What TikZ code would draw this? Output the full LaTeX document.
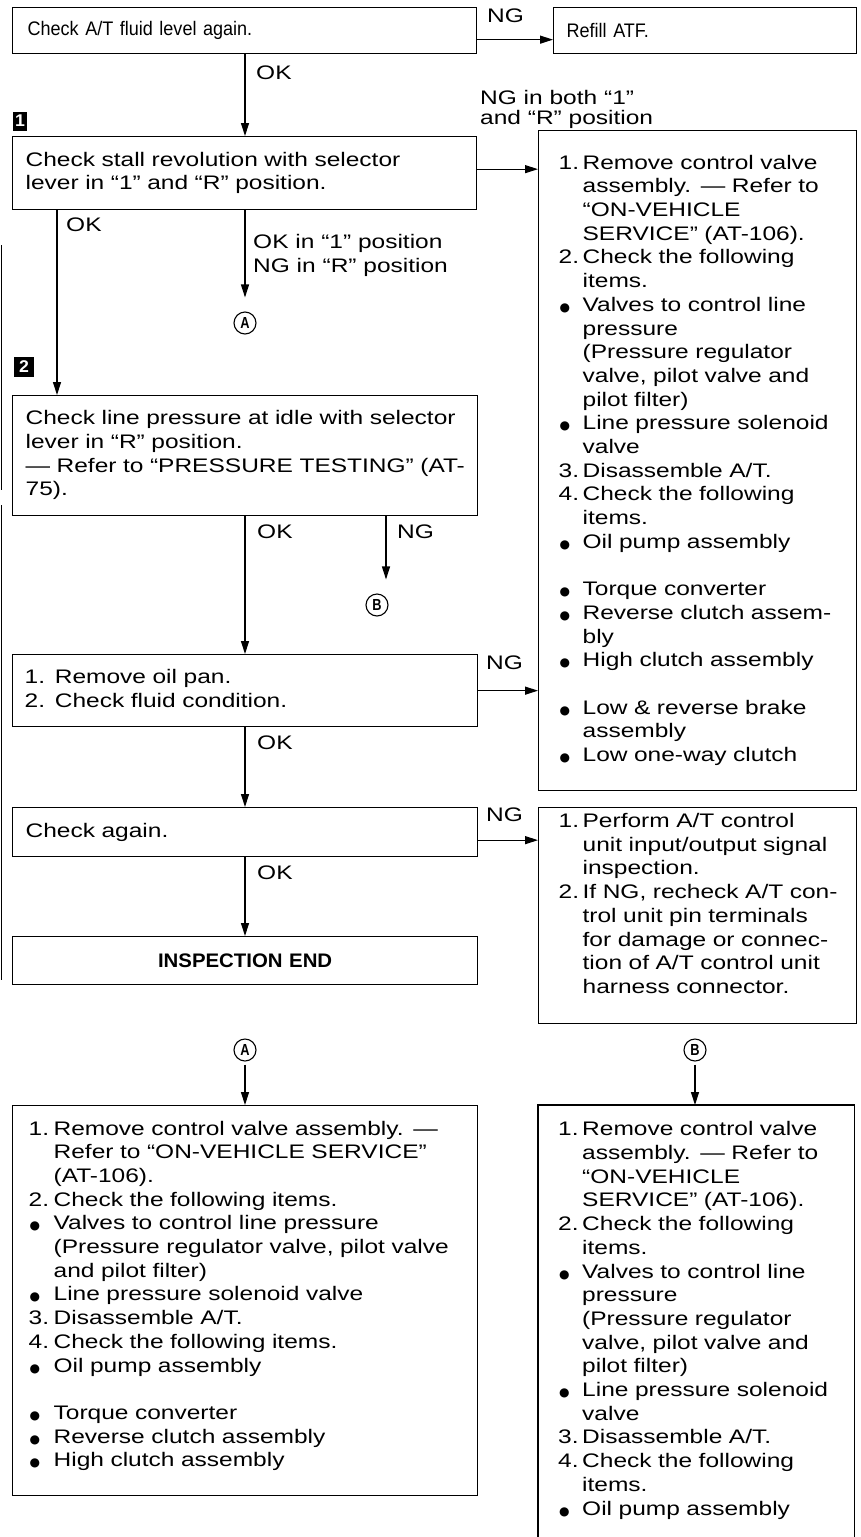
\documentclass[tikz,border=0pt]{standalone}
\usepackage{fontspec}
\setmainfont{Liberation Sans}
\newfontfamily\wf[FakeStretch=1.25]{Liberation Sans}
\newfontfamily\nf[FakeStretch=1.04]{Liberation Sans}
\newfontfamily\kf[FakeStretch=0.92]{Liberation Sans}
\newfontfamily\cf[FakeStretch=0.8]{Liberation Sans}
\newfontfamily\djv{DejaVu Sans}
\usetikzlibrary{arrows.meta}
\newcommand\tx{\wf\fontsize{19.6}{23.7}\selectfont}
\newcommand\ntx{\kf\fontsize{19.6}{23}\selectfont}
\newlength\indw
\setlength\indw{24pt}
\newcommand\Itm[1]{\makebox[\indw][l]{#1}}
\newcommand\Bul{\makebox[\indw][l]{\hspace{1pt}{\djv\fontsize{12}{0}\selectfont ●}}}
\newcommand\Ctn{\hspace*{\indw}}
\newcommand\Tb[1]{\begin{tabular}{@{}l@{}}#1\end{tabular}}
\tikzset{
  box/.style={draw, line width=1.3pt, anchor=north west, inner xsep=13pt, inner ysep=0pt, align=left, font=\tx},
  lbl/.style={font=\tx, inner sep=0pt, anchor=west},
  arr/.style={-{Triangle[length=13pt,width=8pt]}, line width=1.2pt},
  stepmark/.style={fill=black, text=white, inner sep=0pt, font=\nf\bfseries\fontsize{17}{17}\selectfont},
  circ/.style={circle, draw, line width=1.1pt, minimum size=22pt, inner sep=0pt, font=\cf\bfseries\fontsize{16}{16}\selectfont}
}
\begin{document}
\begin{tikzpicture}[x=1pt,y=-1pt]
\useasboundingbox (0,0) rectangle (861,1537);
\fill[white] (0,0) rectangle (861,1537);
\coordinate (cx) at (245,0);
% page-edge marks
\draw[line width=1pt] (1.5,245) -- (1.5,490);
\draw[line width=1pt] (1.5,505) -- (1.5,980);

% top row
\node[box, minimum width=464pt, minimum height=46pt, inner xsep=15pt, text width=434pt, font=\ntx] (b1) at (12,7) {Check A/T fluid level again.};
\node[box, minimum width=303pt, minimum height=46pt, text width=277pt, font=\ntx] (refill) at (553,7) {Refill ATF.};
\draw[arr] ([yshift=-9pt]b1.east) -- ([yshift=-9pt]b1.east -| refill.west);
\node[lbl] (ng0) at (487,16) {NG};
\node[lbl] (ok0) at (256,73) {OK};

% stall box
\node[stepmark, minimum width=14pt, minimum height=19pt] (m1) at (20,121) {1};
\node[box, minimum width=464pt, minimum height=73pt, inner xsep=13pt, text width=438pt] (b2) at (12,136) {\Tb{Check stall revolution with selector\\lever in “1” and “R” position.}};
\draw[arr] (b1.south -| cx) -- (b2.north -| cx);
\node[lbl] (ngboth) at (480,97) {NG in both “1”};
\node[lbl] (ngboth2) at (480,119) {and “R” position};

% right box 1
\node[box, minimum width=318pt, minimum height=660pt, inner xsep=20pt, text width=278pt] (r1) at (538,130) {\Tb{%
\Itm{1.}Remove control valve\\
\Ctn assembly. — Refer to\\
\Ctn “ON-VEHICLE\\
\Ctn SERVICE” (AT-106).\\
\Itm{2.}Check the following\\
\Ctn items.\\
\Bul Valves to control line\\
\Ctn pressure\\
\Ctn (Pressure regulator\\
\Ctn valve, pilot valve and\\
\Ctn pilot filter)\\
\Bul Line pressure solenoid\\
\Ctn valve\\
\Itm{3.}Disassemble A/T.\\
\Itm{4.}Check the following\\
\Ctn items.\\
\Bul Oil pump assembly\\
\mbox{}\\
\Bul Torque converter\\
\Bul Reverse clutch assem-\\
\Ctn bly\\
\Bul High clutch assembly\\
\mbox{}\\
\Bul Low \& reverse brake\\
\Ctn assembly\\
\Bul Low one-way clutch}};
\draw[arr] ([yshift=4pt]b2.east) -- ([yshift=4pt]b2.east -| r1.west);

% branches from stall box
\coordinate (lx) at (57,0);
\node[lbl] (ok1) at (66,225) {OK};
\node[lbl] (okin1) at (253,243) {OK in “1” position};
\node[lbl] (ngin1) at (253,267) {NG in “R” position};
\node[circ] (ca) at (245,323) {A};
\draw[arr] (b2.south -| cx) -- ([yshift=14pt]ca.north);

% line pressure box
\node[stepmark, minimum width=20pt, minimum height=20pt] (m2) at (24,367) {2};
\node[box, minimum width=465pt, minimum height=120pt, text width=439pt] (b3) at (12,395) {\Tb{Check line pressure at idle with selector\\lever in “R” position.\\— Refer to “PRESSURE TESTING” (AT-\\75).}};
\draw[arr] (b2.south -| lx) -- (b3.north -| lx);

\coordinate (bx) at (386,0);
\node[lbl] (ok2) at (257,532) {OK};
\node[lbl] (ng2) at (397,532) {NG};
\node[circ] (cb) at (377,605) {B};
\draw[arr] (b3.south -| bx) -- ([yshift=14pt]cb.north -| bx);

% oil pan box
\node[box, minimum width=465pt, minimum height=72pt, inner xsep=12pt, text width=441pt] (b4) at (12,654) {\Tb{1. Remove oil pan.\\2. Check fluid condition.}};
\draw[arr] (b3.south -| cx) -- (b4.north -| cx);
\node[lbl] (ng3) at (486,663) {NG};
\draw[arr] (b4.east) -- (b4.east -| r1.west);

% check again
\node[lbl] (ok3) at (257,743) {OK};
\node[box, minimum width=465pt, minimum height=49pt, text width=439pt] (b5) at (12,807) {Check again.};
\draw[arr] (b4.south -| cx) -- (b5.north -| cx);

% right box 2
\node[box, minimum width=318pt, minimum height=216pt, inner xsep=20pt, text width=278pt] (r2) at (538,807) {\Tb{%
\Itm{1.}Perform A/T control\\
\Ctn unit input/output signal\\
\Ctn inspection.\\
\Itm{2.}If NG, recheck A/T con-\\
\Ctn trol unit pin terminals\\
\Ctn for damage or connec-\\
\Ctn tion of A/T control unit\\
\Ctn harness connector.\rule[-27pt]{0pt}{1pt}}};
\node[lbl] (ng4) at (486,815) {NG};
\draw[arr] ([yshift=-8pt]b5.east) -- ([yshift=-8pt]b5.east -| r2.west);

% inspection end
\node[lbl] (ok4) at (257,873) {OK};
\node[box, minimum width=465pt, minimum height=48pt, align=center, text width=439pt, font=\nf\bfseries\fontsize{19.6}{23}\selectfont] (end) at (12,936) {INSPECTION END};
\draw[arr] (b5.south -| cx) -- (end.north -| cx);

% bottom A
\node[circ] (ca2) at (245,1050) {A};
\node[box, minimum width=465pt, minimum height=390pt, inner xsep=16pt, text width=433pt, font=\tx] (ba) at (12,1105) {\setlength\indw{25pt}\Tb{%
\Itm{1.}Remove control valve assembly. —\\
\Ctn Refer to “ON-VEHICLE SERVICE”\\
\Ctn (AT-106).\\
\Itm{2.}Check the following items.\\
\Bul Valves to control line pressure\\
\Ctn (Pressure regulator valve, pilot valve\\
\Ctn and pilot filter)\\
\Bul Line pressure solenoid valve\\
\Itm{3.}Disassemble A/T.\\
\Itm{4.}Check the following items.\\
\Bul Oil pump assembly\\
\mbox{}\\
\Bul Torque converter\\
\Bul Reverse clutch assembly\\
\Bul High clutch assembly\rule[-16pt]{0pt}{1pt}}};
\draw[arr] ([yshift=-3pt]ca2.south) -- (ba.north -| ca2);

% bottom B (open at the page bottom)
\node[circ] (cb2) at (695,1050) {B};
\node[anchor=north west, inner xsep=20pt, inner ysep=14pt, align=left, font=\tx, text width=276pt] (bb) at (538,1105) {\Tb{%
\Itm{1.}Remove control valve\\
\Ctn assembly. — Refer to\\
\Ctn “ON-VEHICLE\\
\Ctn SERVICE” (AT-106).\\
\Itm{2.}Check the following\\
\Ctn items.\\
\Bul Valves to control line\\
\Ctn pressure\\
\Ctn (Pressure regulator\\
\Ctn valve, pilot valve and\\
\Ctn pilot filter)\\
\Bul Line pressure solenoid\\
\Ctn valve\\
\Itm{3.}Disassemble A/T.\\
\Itm{4.}Check the following\\
\Ctn items.\\
\Bul Oil pump assembly}};
\draw[line width=1.3pt] (bb.north west) ++(0,460) -- (bb.north west) -- (bb.north east) -- ++(0,460);
\draw[arr] ([yshift=-3pt]cb2.south) -- (bb.north -| cb2);
\end{tikzpicture}
\end{document}
